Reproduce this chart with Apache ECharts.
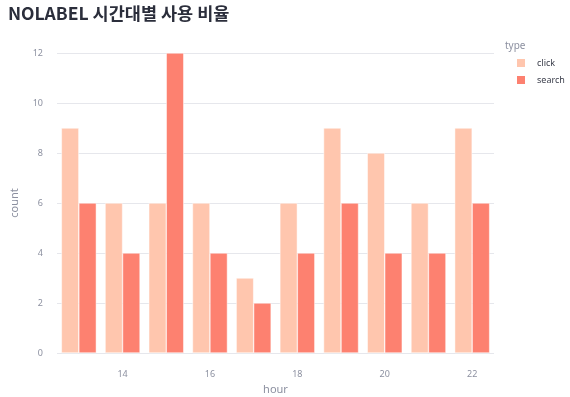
<!DOCTYPE html>
<html>
<head>
<meta charset="utf-8">
<script src="https://cdn.jsdelivr.net/npm/echarts@6/dist/echarts.min.js"></script>
<style>
  html, body { margin: 0; padding: 0; background: #fff; }
  #chart { width: 570px; height: 397px; }
</style>
</head>
<body>
<div id="chart"></div>
<script>
var hours = ['13', '14', '15', '16', '17', '18', '19', '20', '21', '22'];
var clickCounts = [9, 6, 6, 6, 3, 6, 9, 8, 6, 9];
var searchCounts = [6, 4, 12, 4, 2, 4, 6, 4, 4, 6];
var yTicks = [0, 2, 4, 6, 8, 10, 12];

var font = '"Noto Sans", "Noto Sans CJK KR", sans-serif';
var labelColor = '#8c90a0';

var chart = echarts.init(document.getElementById('chart'));

var option = {
  animation: false,
  textStyle: { fontFamily: font },
  title: {
    text: 'NOLABEL 시간대별 사용 비율',
    left: 3,
    top: 0,
    textStyle: { fontFamily: '"Noto Sans CJK KR", sans-serif', fontSize: 17.5, fontWeight: 'bold', color: '#2b2e3b' }
  },
  graphic: [{
    type: 'text',
    left: 505,
    top: 41,
    style: { text: 'type', fill: labelColor, font: '10px ' + font }
  }],
  legend: {
    orient: 'vertical',
    left: 510,
    top: 52,
    itemWidth: 10,
    itemHeight: 10,
    itemGap: 5,
    icon: 'rect',
    textStyle: { fontSize: 9, color: '#3a3d4a', padding: [0, 0, 0, 6] },
    data: ['click', 'search']
  },
  grid: { left: 57, right: 76, top: 53, bottom: 44, outerBoundsMode: 'none' },
  xAxis: {
    type: 'category',
    data: hours,
    name: 'hour',
    nameLocation: 'middle',
    nameGap: 31,
    nameTextStyle: { color: labelColor, fontSize: 11 },
    axisLine: { show: false },
    axisTick: { show: false },
    axisLabel: {
      color: labelColor,
      fontSize: 9,
      margin: 17,
      interval: function (i) { return i % 2 === 1; }
    }
  },
  yAxis: {
    type: 'value',
    min: yTicks[0],
    max: yTicks[yTicks.length - 1],
    interval: 2,
    name: 'count',
    nameLocation: 'middle',
    nameGap: 37,
    nameTextStyle: { color: labelColor, fontSize: 11 },
    axisLabel: { color: labelColor, fontSize: 9, margin: 14 },
    splitLine: { lineStyle: { color: '#e6e7ec', width: 1 } }
  },
  series: [
    {
      name: 'click',
      type: 'bar',
      data: clickCounts,
      barGap: '0%',
      barCategoryGap: '20%',
      itemStyle: { color: '#ffc6ae', borderColor: '#fff', borderWidth: 0.5 }
    },
    {
      name: 'search',
      type: 'bar',
      data: searchCounts,
      barGap: '0%',
      barCategoryGap: '20%',
      itemStyle: { color: '#fd8170', borderColor: '#fff', borderWidth: 0.5 }
    }
  ]
};

chart.setOption(option);
window.onresize = chart.resize;
</script>
</body>
</html>
